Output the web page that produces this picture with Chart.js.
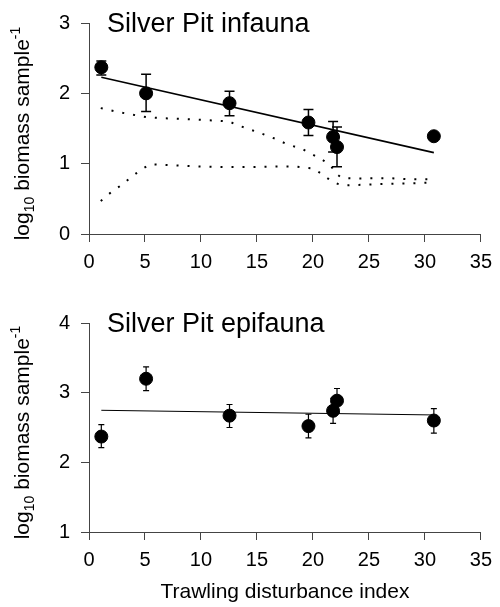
<!DOCTYPE html>
<html>
<head>
<meta charset="utf-8">
<script src="https://cdn.jsdelivr.net/npm/chart.js@4"></script>
<style>
  html, body { margin: 0; padding: 0; background: #fff; }
  #infauna { position: absolute; left: 0; top: 0; }
  #epifauna { position: absolute; left: 0; top: 300px; }
</style>
</head>
<body>
<canvas id="infauna" width="500" height="300"></canvas>
<canvas id="epifauna" width="500" height="307"></canvas>
<script>
// trawling disturbance index of each station
const stationIndex = [1.1, 5.1, 12.55, 19.6, 21.8, 22.15, 30.8];
const xTickValues = [0, 5, 10, 15, 20, 25, 30, 35];

// infauna: mean log10 biomass with error bar ends
const infaunaMean = [2.37, 2.0, 1.86, 1.585, 1.38, 1.236, 1.39];
const infaunaHigh = [2.46, 2.27, 2.03, 1.77, 1.60, 1.52, null];
const infaunaLow = [2.26, 1.74, 1.68, 1.40, 1.165, 0.955, null];
const infaunaFitX = [1.1, 30.8];
const infaunaFitY = [2.23, 1.157];
const infaunaTicks = [0, 1, 2, 3];

// dotted bands (top panel)
const upperBandX = [1.05, 2.75, 4.45, 5.2, 6.85, 9.25, 12.5, 13.4, 15.05, 16.7, 17.5, 19.15, 20.8, 21.6, 22.05, 22.6, 24.3, 26.7, 28.35, 30.8];
const upperBandY = [1.79, 1.73, 1.68, 1.66, 1.645, 1.63, 1.60, 1.54, 1.45, 1.35, 1.29, 1.20, 1.06, 0.97, 0.86, 0.795, 0.79, 0.795, 0.78, 0.78];
const lowerBandX = [1.05, 1.95, 2.85, 3.7, 4.6, 5.45, 7.15, 9.8, 13.2, 17.5, 18.4, 20.1, 21.85, 22.7, 24.4, 26.15, 28.7, 30.45];
const lowerBandY = [0.47, 0.59, 0.69, 0.80, 0.91, 0.99, 0.98, 0.96, 0.95, 0.96, 0.96, 0.93, 0.73, 0.69, 0.70, 0.71, 0.72, 0.73];

// epifauna
const epiMean = [2.37, 3.20, 2.67, 2.52, 2.74, 2.885, 2.60];
const epiHigh = [2.54, 3.37, 2.83, 2.69, 2.92, 3.06, 2.77];
const epiLow = [2.21, 3.03, 2.50, 2.35, 2.56, 2.71, 2.42];
const epiFitX = [1.1, 30.8];
const epiFitY = [2.747, 2.68];
const epiTicks = [1, 2, 3, 4];

const FONT = "'Liberation Sans', Arial, Helvetica, sans-serif";
const AXIS = "#444";

function pts(xs, ys) {
  return xs.map((x, i) => ({ x, y: ys[i] }));
}

function errorBars(xs, highs, lows, cap, width) {
  return {
    id: "errorBars",
    beforeDatasetsDraw(chart) {
      const { ctx, scales } = chart;
      ctx.save();
      ctx.strokeStyle = "#000";
      ctx.lineWidth = width;
      xs.forEach((x, i) => {
        if (highs[i] == null) return;
        const px = scales.x.getPixelForValue(x);
        const hi = scales.y.getPixelForValue(highs[i]);
        const lo = scales.y.getPixelForValue(lows[i]);
        ctx.beginPath();
        ctx.moveTo(px, hi); ctx.lineTo(px, lo);
        ctx.moveTo(px - cap, hi); ctx.lineTo(px + cap, hi);
        ctx.moveTo(px - cap, lo); ctx.lineTo(px + cap, lo);
        ctx.stroke();
      });
      ctx.restore();
    },
  };
}

function panelText(title) {
  return {
    id: "panelText",
    afterDraw(chart) {
      const { ctx, chartArea } = chart;
      ctx.save();
      ctx.fillStyle = "#000";
      ctx.textBaseline = "alphabetic";
      ctx.font = `27px ${FONT}`;
      ctx.fillText(title, chartArea.left + 18, 32);

      // rotated y title with subscript and superscript
      const parts = [
        { t: "log", size: 21, dy: 0 },
        { t: "10", size: 14, dy: 5 },
        { t: " biomass sample", size: 21, dy: 0 },
        { t: "-1", size: 14, dy: -9 },
      ];
      let total = 0;
      parts.forEach((p) => {
        ctx.font = `${p.size}px ${FONT}`;
        p.w = ctx.measureText(p.t).width;
        total += p.w;
      });
      const cy = (chartArea.top + chartArea.bottom) / 2 + 5;
      ctx.translate(29, cy);
      ctx.rotate(-Math.PI / 2);
      let x = -total / 2;
      parts.forEach((p) => {
        ctx.font = `${p.size}px ${FONT}`;
        ctx.fillText(p.t, x, p.dy);
        x += p.w;
      });
      ctx.restore();
    },
  };
}

function makePanel(id, opts) {
  const datasets = [
    {
      data: pts(stationIndex, opts.mean),
      pointRadius: 6.5,
      pointBackgroundColor: "#000",
      pointBorderColor: "#000",
      showLine: false,
    },
    {
      data: pts(opts.fitX, opts.fitY),
      showLine: true,
      pointRadius: 0,
      borderColor: "#000",
      borderWidth: opts.fitWidth,
    },
  ];
  (opts.bands || []).forEach((b) => {
    datasets.push({
      data: pts(b[0], b[1]),
      showLine: true,
      pointRadius: 0,
      borderColor: "#000",
      borderWidth: 2,
      borderDash: [2, 9],
    });
  });

  return new Chart(document.getElementById(id), {
    type: "scatter",
    data: { datasets },
    options: {
      responsive: false,
      animation: false,
      devicePixelRatio: 1,
      layout: { padding: { top: 22, right: 11, left: 0, bottom: 0 } },
      plugins: { legend: { display: false }, tooltip: { enabled: false } },
      scales: {
        x: {
          type: "linear",
          min: 0,
          max: 35,
          afterBuildTicks: (s) => { s.ticks = xTickValues.map((v) => ({ value: v })); },
          afterFit: (s) => { s.height = opts.xHeight; },
          ticks: { color: "#000", font: { family: FONT, size: 20 }, padding: 8 },
          grid: { drawOnChartArea: false, tickLength: 8, color: AXIS },
          border: { color: AXIS },
          title: {
            display: !!opts.xTitle,
            text: opts.xTitle || "",
            color: "#000",
            font: { family: FONT, size: 21 },
            padding: { top: 0, bottom: 2 },
          },
        },
        y: {
          type: "linear",
          min: opts.yTicks[0],
          max: opts.yTicks[opts.yTicks.length - 1],
          afterBuildTicks: (s) => { s.ticks = opts.yTicks.map((v) => ({ value: v })); },
          afterFit: (s) => { s.width = 89; },
          ticks: { color: "#000", font: { family: FONT, size: 20 }, padding: 11 },
          grid: { drawOnChartArea: false, tickLength: 8, color: AXIS },
          border: { color: AXIS },
        },
      },
    },
    plugins: [errorBars(stationIndex, opts.high, opts.low, opts.cap, opts.barWidth), panelText(opts.title)],
  });
}

makePanel("infauna", {
  title: "Silver Pit infauna",
  mean: infaunaMean, high: infaunaHigh, low: infaunaLow,
  fitX: infaunaFitX, fitY: infaunaFitY, fitWidth: 1.6,
  bands: [[upperBandX, upperBandY], [lowerBandX, lowerBandY]],
  yTicks: infaunaTicks, xHeight: 66, cap: 5, barWidth: 1.5,
});

makePanel("epifauna", {
  title: "Silver Pit epifauna",
  mean: epiMean, high: epiHigh, low: epiLow,
  fitX: epiFitX, fitY: epiFitY, fitWidth: 1,
  yTicks: epiTicks, xHeight: 75, cap: 3, barWidth: 1.2,
  xTitle: "Trawling disturbance index",
});
</script>
</body>
</html>
